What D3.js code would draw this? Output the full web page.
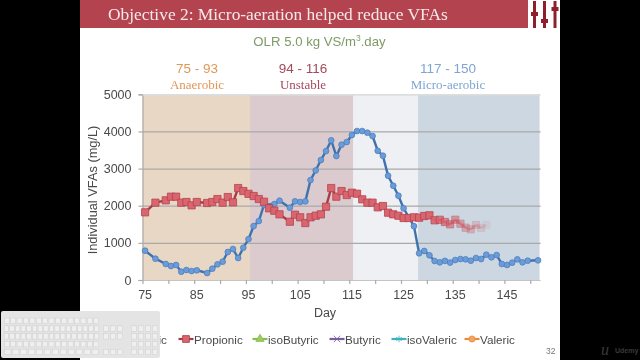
<!DOCTYPE html>
<html>
<head>
<meta charset="utf-8">
<script src="https://cdn.jsdelivr.net/npm/d3@7"></script>
<style>
  html, body { margin: 0; padding: 0; background: #000; overflow: hidden; }
  svg { display: block; }
  text { font-family: "Liberation Sans", sans-serif; }
  .serif { font-family: "Liberation Serif", serif; }
  .sharp { filter: blur(0.45px); }
</style>
</head>
<body>
<div id="chart"></div>
<script>
// values
const aceticDays = [75, 77, 79, 80, 81, 82, 83, 84, 85, 87, 88, 89, 90, 91, 92, 93, 94, 95, 96, 97, 98, 100, 101, 103, 104, 105, 106, 107, 108, 109, 110, 111, 112, 113, 114, 115, 116, 117, 118, 119, 120, 121, 122, 123, 124, 125, 127, 128, 129, 130, 131, 132, 133, 134, 135, 136, 137, 138, 139, 140, 141, 142, 143, 144, 145, 146, 147, 148, 149, 151];
const aceticValues = [789, 574, 431, 377, 404, 223, 269, 242, 260, 188, 304, 422, 493, 754, 834, 592, 869, 1100, 1453, 1588, 2020, 2045, 2135, 1947, 2118, 2100, 2118, 2690, 2950, 3230, 3472, 3760, 3338, 3643, 3715, 3903, 4011, 4011, 3965, 3876, 3480, 3346, 2808, 2538, 2270, 1930, 1450, 719, 781, 665, 511, 476, 515, 470, 538, 565, 556, 520, 592, 565, 681, 611, 673, 431, 404, 466, 556, 476, 520, 530];
const propionicDays = [75, 77, 79, 80, 81, 82, 83, 84, 85, 87, 88, 89, 90, 91, 92, 93, 94, 95, 96, 97, 98, 99, 100, 101, 103, 104, 105, 106, 107, 108, 109, 110, 111, 112, 113, 114, 115, 116, 117, 118, 119, 120, 121, 122, 123, 124, 125, 126, 127, 128, 129, 130, 131, 132, 133, 134, 135, 136, 137, 138, 139, 140, 141];
const propionicValues = [1822, 2082, 2145, 2243, 2243, 2082, 2100, 2010, 2100, 2073, 2100, 2180, 2082, 2234, 2091, 2476, 2395, 2320, 2261, 2180, 2108, 1930, 1865, 1768, 1569, 1758, 1688, 1534, 1688, 1731, 1768, 1973, 2476, 2243, 2395, 2288, 2350, 2323, 2172, 2082, 2082, 1957, 1992, 1812, 1768, 1731, 1669, 1669, 1688, 1677, 1723, 1741, 1607, 1623, 1561, 1499, 1623, 1515, 1408, 1365, 1480, 1400, 1480];

const allDays = d3.range(75, 152);
const xLabels = [75, 85, 95, 105, 115, 125, 135, 145];
const xTickMarks = [75, 80, 85, 90, 95, 100, 105, 110, 115, 120, 125, 130, 135, 140, 145, 150];
const yTicks = [0, 1000, 2000, 3000, 4000, 5000];

const phaseStart = [75, 95.8, 115.8, 128.3];
const phaseEnd = [95.8, 115.8, 128.3, 151.8];
const phaseColors = ["#e9d7c6", "#dbcbce", "#eef0f4", "#ccd7e1"];

const phaseRanges = ["75 - 93", "94 - 116", "117 - 150"];
const phaseNames = ["Anaerobic", "Unstable", "Micro-aerobic"];
const phaseTextColors = ["#e0975a", "#a34a5c", "#7fa5d3"];
const phaseTextX = [197, 303, 448];

const legendNames = ["Acetic", "Propionic", "isoButyric", "Butyric", "isoValeric", "Valeric"];
const legendColors = ["#3f72ad", "#a83a46", "#8cbc4f", "#7a5ca0", "#3fb0c4", "#e98b3c"];
const legendFill = ["#6b9bd8", "#d9656f", "#9bcb5f", "#7a5ca0", "#3fb0c4", "#f4a460"];
const legendShapes = [d3.symbolCircle, d3.symbolSquare, d3.symbolTriangle, d3.symbolTimes, d3.symbolAsterisk, d3.symbolCircle];
const legendSwatchX = [127, 186, 260, 337, 399, 472];

const keyboardRows = [15, 17, 17, 15, 12];

const width = 640, height = 360;
const plot = { left: 142.5, right: 540.6, top: 94.3, bottom: 280 };

const svg = d3.select("#chart").append("svg")
  .attr("width", width)
  .attr("height", height)
  .style("background", "#000");

const slide = svg.append("g").attr("class", "sharp");

// slide page and title bar
slide.append("rect").attr("x", 80).attr("y", 0).attr("width", 480).attr("height", 360).attr("fill", "#fff");
slide.append("rect").attr("x", 80).attr("y", 0).attr("width", 448).attr("height", 28).attr("fill", "#b3444f");
slide.append("text").attr("class", "serif")
  .attr("x", 108).attr("y", 19.5)
  .attr("font-size", 17.4).attr("fill", "#f6e9e9")
  .text("Objective 2: Micro-aeration helped reduce VFAs");

// slider logo on the right of the title
const logoX = [534.5, 544.5, 555];
const logoKnob = [12, 19, 7];
logoX.forEach((x, i) => {
  slide.append("line").attr("x1", x).attr("x2", x).attr("y1", 1).attr("y2", 28)
    .attr("stroke", "#8e1f2c").attr("stroke-width", 3);
  slide.append("rect").attr("x", x - 3.5).attr("y", logoKnob[i]).attr("width", 7).attr("height", 4).attr("fill", "#8e1f2c");
});

const olr = slide.append("text")
  .attr("x", 319.5).attr("y", 46)
  .attr("text-anchor", "middle")
  .attr("font-size", 13.2).attr("fill", "#7f9a66");
olr.append("tspan").text("OLR 5.0 kg VS/m");
olr.append("tspan").attr("dy", -5).attr("font-size", 8.5).text("3");
olr.append("tspan").attr("dy", 5).text(".day");

// scales
const xEdge = d3.scaleLinear().domain([75, 152]).range([plot.left, plot.right]);
const x = d3.scaleBand().domain(allDays).range([plot.left, plot.right]);
const y = d3.scaleLinear().domain([0, 5000]).range([plot.bottom, plot.top]);
const xMid = (d) => x(d) + x.bandwidth() / 2;

// phase backgrounds
slide.append("g").selectAll("rect")
  .data(phaseStart)
  .enter()
  .append("rect")
  .attr("x", (d) => xEdge(d))
  .attr("y", plot.top + 1)
  .attr("width", (d, i) => xEdge(phaseEnd[i]) - xEdge(d))
  .attr("height", plot.bottom - plot.top - 1)
  .attr("fill", (d, i) => phaseColors[i]);

// phase headings
phaseRanges.forEach((t, i) => {
  slide.append("text")
    .attr("x", phaseTextX[i]).attr("y", 73)
    .attr("text-anchor", "middle")
    .attr("font-size", 13.5).attr("fill", phaseTextColors[i])
    .text(t);
  slide.append("text").attr("class", "serif")
    .attr("x", phaseTextX[i]).attr("y", 89)
    .attr("text-anchor", "middle")
    .attr("font-size", 13).attr("fill", phaseTextColors[i])
    .text(phaseNames[i]);
});

// y axis with grid lines
const yAxis = slide.append("g")
  .attr("transform", `translate(${plot.left},0)`)
  .call(d3.axisLeft(y).tickValues(yTicks).tickSize(4).tickPadding(7).tickFormat(d3.format("d")));
yAxis.select(".domain").attr("stroke", "#aaa").attr("stroke-width", 1.2);
yAxis.selectAll(".tick line").attr("stroke", "#aaa").attr("stroke-width", 1.2);
yAxis.selectAll(".tick text").attr("font-size", 12.5).attr("fill", "#4a4a4a").style("font-family", '"Liberation Sans", sans-serif');
yAxis.selectAll(".tick").append("line")
  .attr("x1", 0).attr("x2", plot.right - plot.left)
  .attr("stroke", (d) => (d === 5000 ? "#d2d2d2" : d === 0 ? "#c4c4c4" : "#a9a9a9"))
  .attr("stroke-width", 1.2);

// x axis: marks every 5 days on band edges, labels every 10 in the band centre
const xMarks = slide.append("g")
  .attr("transform", `translate(0,${plot.bottom})`)
  .call(d3.axisBottom(xEdge).tickValues(xTickMarks).tickSize(4).tickFormat(""));
xMarks.select(".domain").remove();
xMarks.selectAll(".tick line").attr("stroke", "#aaa").attr("stroke-width", 1.2);
const xAxis = slide.append("g")
  .attr("transform", `translate(0,${plot.bottom})`)
  .call(d3.axisBottom(x).tickValues(xLabels).tickSize(0).tickPadding(10));
xAxis.select(".domain").remove();
xAxis.selectAll(".tick text").attr("font-size", 12.5).attr("fill", "#4a4a4a").style("font-family", '"Liberation Sans", sans-serif');

slide.append("text")
  .attr("transform", "translate(97,190) rotate(-90)")
  .attr("text-anchor", "middle")
  .attr("font-size", 12.8).attr("fill", "#4a4a4a")
  .text("Individual VFAs (mg/L)");
slide.append("text")
  .attr("x", 325).attr("y", 317)
  .attr("text-anchor", "middle")
  .attr("font-size", 12.5).attr("fill", "#4a4a4a")
  .text("Day");

// series
const line = d3.line().x((d) => xMid(d[0])).y((d) => y(d[1]));
const aceticPoints = d3.zip(aceticDays, aceticValues);
const propionicPoints = d3.zip(propionicDays, propionicValues);

slide.append("path")
  .attr("d", line(aceticPoints))
  .attr("fill", "none")
  .attr("stroke", legendColors[0])
  .attr("stroke-width", 2.4);
slide.append("g").selectAll("path")
  .data(aceticPoints)
  .enter()
  .append("path")
  .attr("d", d3.symbol().type(d3.symbolCircle).size(26))
  .attr("transform", (d) => `translate(${xMid(d[0])},${y(d[1])})`)
  .attr("fill", legendFill[0])
  .attr("stroke", "#4d80bd")
  .attr("stroke-width", 0.8);

// propionic is being wiped in on the slide, so it fades out to the right
const fade = d3.scaleLinear().domain([130, 141]).range([1, 0.1]).clamp(true);
slide.append("g").selectAll("path")
  .data(d3.pairs(propionicPoints))
  .enter()
  .append("path")
  .attr("d", (d) => line(d))
  .attr("fill", "none")
  .attr("stroke", legendColors[1])
  .attr("stroke-width", 2.4)
  .attr("opacity", (d) => fade(d[1][0]));
slide.append("g").selectAll("path")
  .data(propionicPoints)
  .enter()
  .append("path")
  .attr("d", d3.symbol().type(d3.symbolSquare).size(52))
  .attr("transform", (d) => `translate(${xMid(d[0])},${y(d[1])})`)
  .attr("fill", legendFill[1])
  .attr("stroke", "#b5434f")
  .attr("stroke-width", 0.8)
  .attr("opacity", (d) => fade(d[0]));

// legend
const legend = slide.append("g").selectAll("g")
  .data(legendNames)
  .enter()
  .append("g")
  .attr("transform", (d, i) => `translate(${legendSwatchX[i]},339)`);
legend.append("line")
  .attr("x1", -7.5).attr("x2", 7.5)
  .attr("stroke", (d, i) => legendColors[i])
  .attr("stroke-width", 2.2);
legend.append("path")
  .attr("d", (d, i) => d3.symbol().type(legendShapes[i]).size(i === 1 ? 46 : 30)())
  .attr("fill", (d, i) => legendFill[i])
  .attr("stroke", (d, i) => legendColors[i])
  .attr("stroke-width", 0.8);
legend.append("text")
  .attr("x", 8).attr("y", 4.5)
  .attr("font-size", 11.7).attr("fill", "#4a4a4a")
  .text((d) => d);

slide.append("text")
  .attr("x", 546).attr("y", 354)
  .attr("font-size", 8.5).attr("fill", "#777")
  .text("32");

// on-screen keyboard floating over the corner
const kb = svg.append("g").attr("class", "sharp");
kb.append("rect")
  .attr("x", 1).attr("y", 311).attr("width", 159).attr("height", 47).attr("rx", 2)
  .attr("fill", "#e4e4e4");
keyboardRows.forEach((n, r) => {
  const keyX = d3.scaleBand().domain(d3.range(n)).range([3, 100]).padding(0.2);
  kb.append("g").selectAll("rect")
    .data(d3.range(n))
    .enter()
    .append("rect")
    .attr("x", (d) => keyX(d))
    .attr("y", 318 + r * 7.8)
    .attr("width", keyX.bandwidth())
    .attr("height", 5.5)
    .attr("fill", "#efefef")
    .attr("stroke", "#cdcdcd")
    .attr("stroke-width", 0.5);
  [106, 113, 120, 134, 141, 148, 155].forEach((kx) => {
    if (r === 0 || r === 3 && kx < 130) return;
    kb.append("rect")
      .attr("x", kx - 2.5)
      .attr("y", 318 + r * 7.8)
      .attr("width", 5)
      .attr("height", 5.5)
      .attr("fill", "#efefef")
      .attr("stroke", "#cdcdcd")
      .attr("stroke-width", 0.5);
  });
});

// watermark
svg.append("text")
  .attr("x", 615).attr("y", 353)
  .attr("font-size", 7).attr("font-weight", "bold").attr("fill", "#3a3a3a")
  .text("Udemy");
svg.append("text").attr("class", "serif")
  .attr("x", 601).attr("y", 355)
  .attr("font-size", 16).attr("font-style", "italic").attr("fill", "#3a3a3a")
  .text("u");
</script>
</body>
</html>
